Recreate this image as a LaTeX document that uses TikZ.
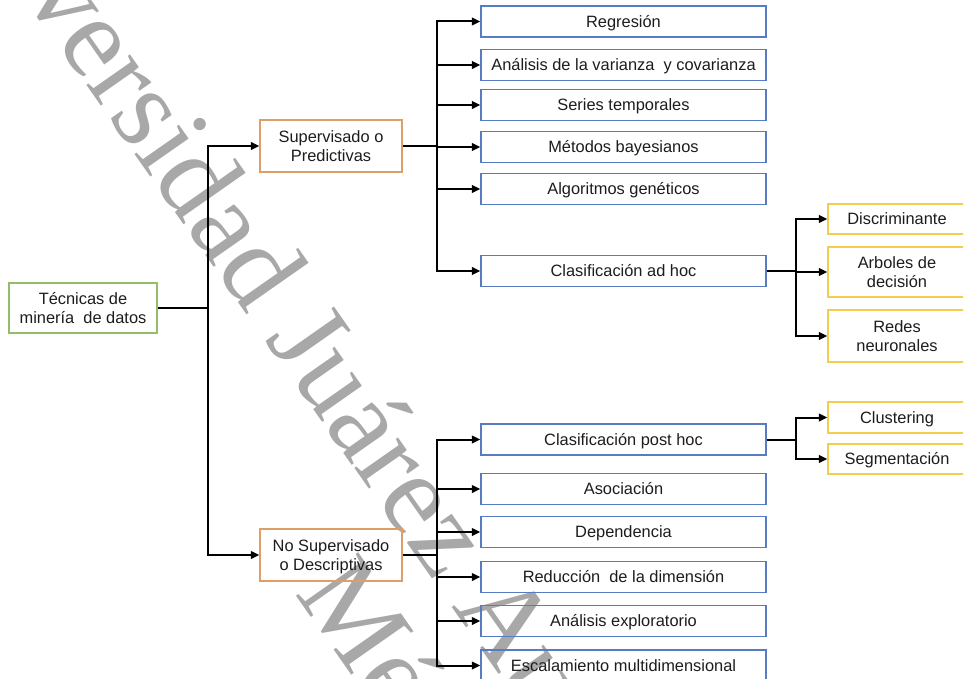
\documentclass[tikz,border=0pt]{standalone}
\usepackage{fontspec}
\setmainfont{Liberation Sans}
\newfontfamily\wmfont{Liberation Serif}
\usetikzlibrary{arrows.meta}
\definecolor{txt}{RGB}{28,28,28}
\definecolor{bluec}{RGB}{88,124,196}
\definecolor{orangec}{RGB}{222,158,104}
\definecolor{greenc}{RGB}{146,190,104}
\definecolor{yellowc}{RGB}{244,204,78}
\definecolor{wmgray}{RGB}{168,168,168}
\newcommand{\boxfont}{\fontsize{16.4}{19.5}\selectfont}
\begin{document}
\begin{tikzpicture}[x=1pt,y=-1pt,
  box/.style={draw, line width=1.3pt, inner sep=0pt, font=\boxfont, text=txt, align=center},
  onel/.style={text height=11.7pt, text depth=0pt},
  twol/.style={text depth=0pt},
  bluebox/.style={box, draw=bluec, minimum width=285pt, minimum height=31pt, onel},
  orbox/.style={box, draw=orangec, minimum width=142pt, minimum height=52pt, twol},
  rootbox/.style={box, draw=greenc, minimum width=148pt, minimum height=50pt, twol},
  yelbox/.style={box, draw=yellowc, minimum width=138pt},
  conn/.style={draw=black, line width=2pt},
  arr/.style={conn, -{Triangle[length=8.5pt,width=7.5pt]}},
  wm/.style={font=\wmfont\fontsize{116}{122}\selectfont, text=wmgray, rotate=-55, anchor=base, inner sep=0pt}
]
\useasboundingbox (0,0) rectangle (963,679);
\clip (0,0) rectangle (963,679);

% watermark
\node[wm] (wm1) at (484,653) {Universidad Juárez Autónoma de Tabasco};
\node[wm] (wm2) at (396,739) {México};

% root and first level
\node[rootbox] (root) at (83,308) {Técnicas de\\minería\ \ de datos};
\node[orbox] (sup) at (331,146) {Supervisado o\\Predictivas};
\node[orbox] (nosup) at (331,555) {No Supervisado\\o Descriptivas};

% supervised techniques
\node[bluebox] (reg) at (623.5,21.5) {Regresión};
\node[bluebox] (anva) at (623.5,65) {Análisis de la varianza\ \ y covarianza};
\node[bluebox] (ser) at (623.5,105) {Series temporales};
\node[bluebox] (bay) at (623.5,147) {Métodos bayesianos};
\node[bluebox] (gen) at (623.5,189) {Algoritmos genéticos};
\node[bluebox] (adhoc) at (623.5,271) {Clasificación ad hoc};

% unsupervised techniques
\node[bluebox] (posthoc) at (623.5,439.5) {Clasificación post hoc};
\node[bluebox] (asoc) at (623.5,489) {Asociación};
\node[bluebox] (dep) at (623.5,532) {Dependencia};
\node[bluebox] (red) at (623.5,577) {Reducción\ \ de la dimensión};
\node[bluebox] (expl) at (623.5,621) {Análisis exploratorio};
\node[bluebox] (esc) at (623.5,665.5) {Escalamiento multidimensional};

% third level
\node[yelbox, minimum height=30pt, onel] (disc) at (897,219) {Discriminante};
\node[yelbox, minimum height=50pt, twol] (arb) at (897,272) {Arboles de\\decisión};
\node[yelbox, minimum height=52pt, twol] (redn) at (897,336) {Redes\\neuronales};
\node[yelbox, minimum height=31pt, onel] (clus) at (897,417.5) {Clustering};
\node[yelbox, minimum height=30pt, onel] (seg) at (897,459) {Segmentación};

% junctions
\coordinate (j0) at (208,308);
\coordinate (j1) at (437,146);
\coordinate (j4) at (437,555);
\coordinate (j2) at (796,271);
\coordinate (j3) at (796,439.5);

% connectors
\draw[conn] (root.east) -- (j0);
\draw[arr] (j0) |- (sup.west);
\draw[arr] (j0) |- (nosup.west);
\draw[conn] (sup.east) -- (j1);
\foreach \n in {reg,anva,ser,bay,gen,adhoc} \draw[arr] (j1) |- (\n.west);
\draw[conn] (nosup.east) -- (j4);
\foreach \n in {posthoc,asoc,dep,red,expl,esc} \draw[arr] (j4) |- (\n.west);
\draw[conn] (adhoc.east) -- (j2);
\foreach \n in {disc,arb,redn} \draw[arr] (j2) |- (\n.west);
\draw[conn] (posthoc.east) -- (j3);
\foreach \n in {clus,seg} \draw[arr] (j3) |- (\n.west);
\end{tikzpicture}
\end{document}
